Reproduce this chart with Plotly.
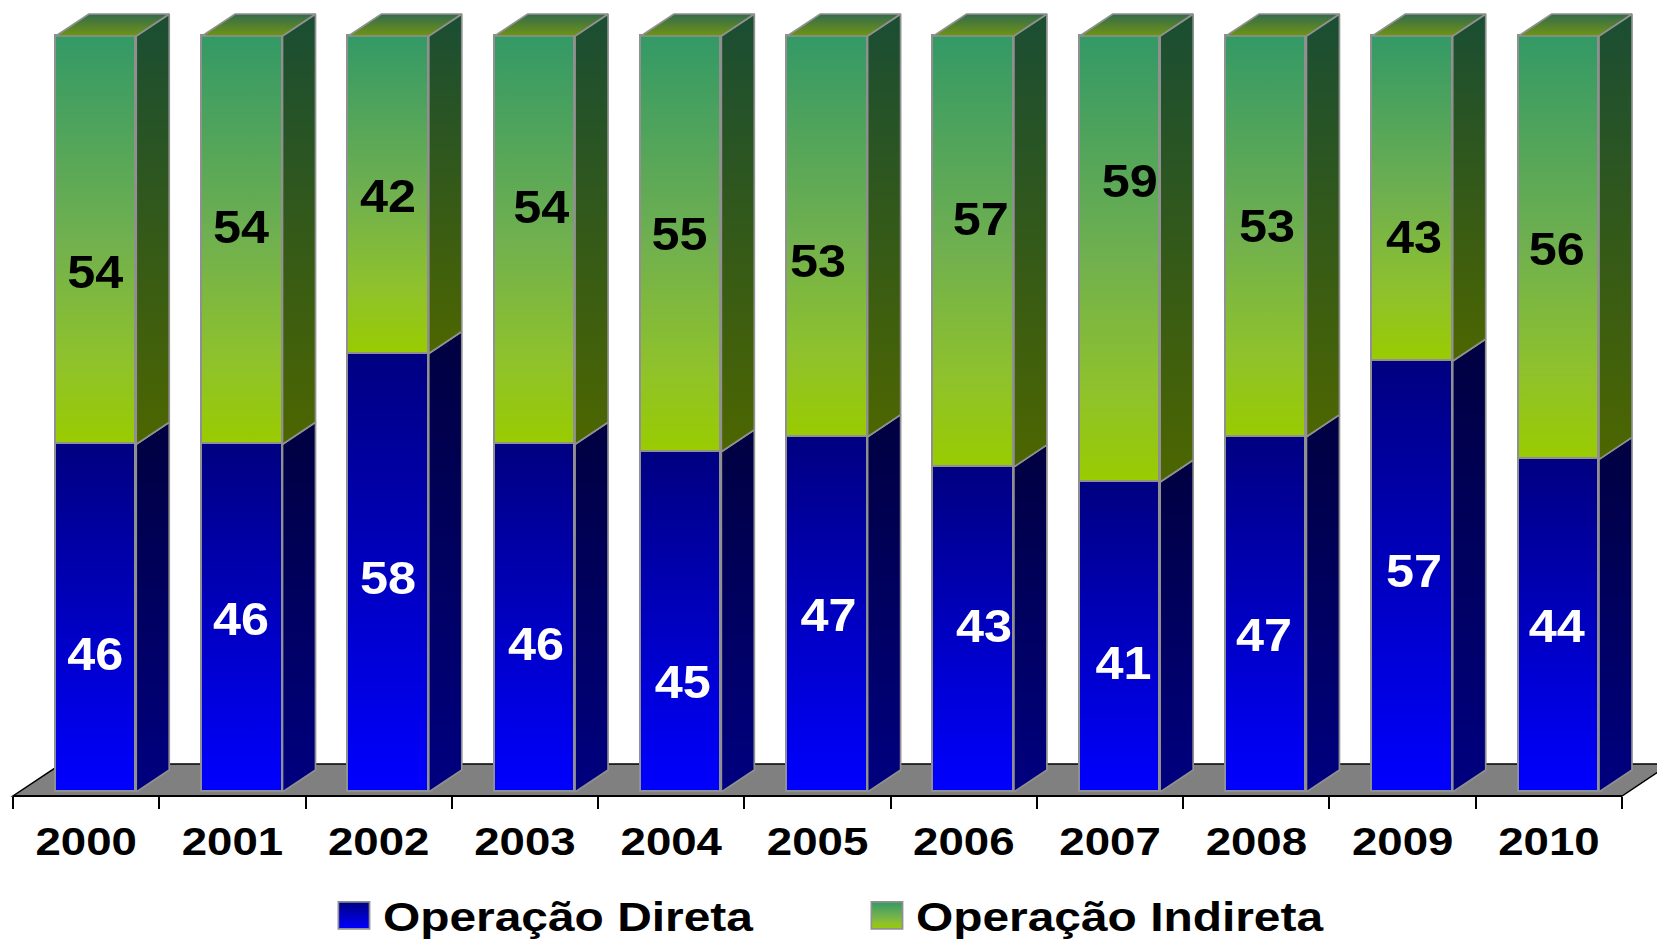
import plotly.graph_objects as go

years = [2000, 2001, 2002, 2003, 2004, 2005, 2006, 2007, 2008, 2009, 2010]
direta = [46, 46, 58, 46, 45, 47, 43, 41, 47, 57, 44]
indireta = [54, 54, 42, 54, 55, 53, 57, 59, 53, 43, 56]

# Hand-placed value labels (axis units)
direta_label_y = [17.7, 22.3, 27.7, 19.0, 14.0, 22.8, 21.3, 16.5, 20.2, 28.6, 21.3]
indireta_label_y = [68.2, 74.1, 78.2, 76.8, 73.2, 69.6, 75.2, 80.2, 74.3, 72.8, 71.2]
direta_label_dx = [0.062, 0.059, 0.063, 0.075, 0.079, 0.076, 0.138, 0.092, 0.052, 0.078, 0.054]
indireta_label_dx = [0.062, 0.059, 0.063, 0.111, 0.057, 0.004, 0.116, 0.135, 0.073, 0.078, 0.054]

W, H = 1657, 941
ML, MB = 13, 145
XMIN, XEND, XMAX = 1999.5, 2010.5, 2010.739
YMIN, YMAX = -0.53, 104.76
BAR_W = 0.55
BAR_OFF = -0.2075
DX, DY = 0.2256, 2.91       # 3D depth in axis units
FDX, FDY = 0.328, 4.23      # floor depth
EDGE = "#909090"
EDGE_W = 1.7

BLUE_SIDE = ("#000080", "#000040")
GREEN_SIDE = ("#4D6600", "#1A4D33")
TOP = ("#6F9414", "#336B4D")

fig = go.Figure()


def face(xs, ys, grad):
    fig.add_trace(go.Scatter(
        x=xs + xs[:1], y=ys + ys[:1], mode="lines", fill="toself",
        line=dict(color=EDGE, width=EDGE_W),
        fillgradient=dict(type="vertical", colorscale=[[0, grad[0]], [1, grad[1]]]),
        hoverinfo="skip", showlegend=False, cliponaxis=False))


fig.add_trace(go.Bar(name="Operação Direta", x=years, y=direta, width=BAR_W, offset=BAR_OFF,
                     marker=dict(color="#0000CC", line=dict(color=EDGE, width=EDGE_W))))
fig.add_trace(go.Bar(name="Operação Indireta", x=years, y=indireta, width=BAR_W, offset=BAR_OFF,
                     marker=dict(color="#66B233", line=dict(color=EDGE, width=EDGE_W))))

for yr, a, b in zip(years, direta, indireta):
    x0 = yr + BAR_OFF
    x1 = x0 + BAR_W
    face([x1, x1 + DX, x1 + DX, x1], [0, DY, a + DY, a], BLUE_SIDE)
    face([x1, x1 + DX, x1 + DX, x1], [a, a + DY, a + b + DY, a + b], GREEN_SIDE)
    top = a + b
    face([x0, x1, x1 + DX, x0 + DX], [top, top, top + DY, top + DY], TOP)

fig.add_trace(go.Scatter(
    x=[y + d for y, d in zip(years, direta_label_dx)], y=direta_label_y,
    text=[str(v) for v in direta], mode="text", textposition="middle center",
    textfont=dict(family="Liberation Sans", size=46, color="white", weight="bold"),
    hoverinfo="skip", showlegend=False, cliponaxis=False))
fig.add_trace(go.Scatter(
    x=[y + d for y, d in zip(years, indireta_label_dx)], y=indireta_label_y,
    text=[str(v) for v in indireta], mode="text", textposition="middle center",
    textfont=dict(family="Liberation Sans", size=46, color="black", weight="bold"),
    hoverinfo="skip", showlegend=False, cliponaxis=False))


def px(v):
    return (v - XMIN) / (XMAX - XMIN)


def py(v):
    return (v - YMIN) / (YMAX - YMIN)


floor = [(XMIN, YMIN), (XEND, YMIN), (XEND + FDX, YMIN + FDY), (XMIN + FDX, YMIN + FDY)]
floor_path = "M" + " L".join(f"{px(a):.5f},{py(b):.5f}" for a, b in floor) + " Z"

fig.update_layout(
    width=W, height=H, barmode="stack", bargap=0,
    margin=dict(l=ML, r=0, t=0, b=MB, pad=0, autoexpand=False),
    plot_bgcolor="white", paper_bgcolor="white",
    font=dict(family="Liberation Sans", color="black"),
    shapes=[dict(type="path", xref="paper", yref="paper", path=floor_path, layer="below",
                 fillcolor="#808080", line=dict(color="black", width=1.5)),
            dict(type="line", xref="paper", yref="paper", x0=px(XMIN), x1=px(XEND), y0=py(YMIN), y1=py(YMIN),
                 layer="above", line=dict(color="black", width=2))],
    xaxis=dict(range=[XMIN, XMAX], tickmode="array", tickvals=years, ticktext=[str(y) for y in years],
               ticks="outside", ticklen=12, tickcolor="rgba(0,0,0,0)", tickwidth=1,
               tickfont=dict(family="Liberation Sans", size=38, color="black", weight="bold"),
               showgrid=False, zeroline=False, showline=False,
               minor=dict(tickmode="array", tickvals=[y - 0.5 for y in years] + [XEND],
                          ticks="outside", ticklen=12, tickwidth=1.5, tickcolor="black", showgrid=False)),
    yaxis=dict(range=[YMIN, YMAX], visible=False, showgrid=False, zeroline=False),
    legend=dict(orientation="h", x=0.2007, xanchor="left", y=-0.15, yanchor="middle",
                bgcolor="rgba(0,0,0,0)", itemclick=False, itemdoubleclick=False,
                font=dict(family="Liberation Sans", size=40, color="black", weight="bold"),
                entrywidth=488, entrywidthmode="pixels", itemwidth=30, traceorder="normal"),
)

post = """
document.body.style.margin = '0';
var gd = document.getElementById('{plot_id}');
var ns = 'http://www.w3.org/2000/svg';
var holder = document.createElementNS(ns, 'svg');
holder.setAttribute('width', 0); holder.setAttribute('height', 0);
holder.style.position = 'absolute';
var defs = document.createElementNS(ns, 'defs');
function grad(id, stops) {
  var g = document.createElementNS(ns, 'linearGradient');
  g.setAttribute('id', id);
  g.setAttribute('x1', 0); g.setAttribute('y1', 0); g.setAttribute('x2', 0); g.setAttribute('y2', 1);
  stops.forEach(function (s) {
    var st = document.createElementNS(ns, 'stop');
    st.setAttribute('offset', s[0]); st.setAttribute('stop-color', s[1]);
    g.appendChild(st);
  });
  defs.appendChild(g);
}
grad('gBlue', [[0, '#000080'], [1, '#0000FF']]);
grad('gGreen', [[0, '#339966'], [0.5, '#70B04F'], [0.8, '#8FC22B'], [1, '#99CC00']]);
holder.appendChild(defs);
document.body.appendChild(holder);
var ids = ['gBlue', 'gGreen'];
gd.querySelectorAll('.barlayer .trace').forEach(function (t, i) {
  t.querySelectorAll('path').forEach(function (p) {
    p.style.setProperty('fill', 'url(#' + ids[i] + ')');
  });
});
gd.querySelectorAll('.legend .scrollbox').forEach(function (s) { s.removeAttribute('clip-path'); });
gd.querySelectorAll('.legend .traces').forEach(function (t, i) {
  t.querySelectorAll('.legendbar path, .legendpoints path').forEach(function (p) {
    p.style.setProperty('fill', 'url(#' + ids[i] + ')');
    p.setAttribute('transform', 'translate(11,0) scale(2.6,2.25)');
    p.style.setProperty('vector-effect', 'non-scaling-stroke');
  });
});
function stretch(sel, k) {
  gd.querySelectorAll(sel).forEach(function (t) {
    var w = t.getComputedTextLength();
    t.setAttribute('textLength', w * k);
    t.setAttribute('lengthAdjust', 'spacingAndGlyphs');
  });
}
stretch('.xtick text', 1.2);
stretch('.legendtext', 1.197);
stretch('.textpoint text', 1.095);
"""

fig.write_html("out.html", post_script=post, config={"displayModeBar": False})
